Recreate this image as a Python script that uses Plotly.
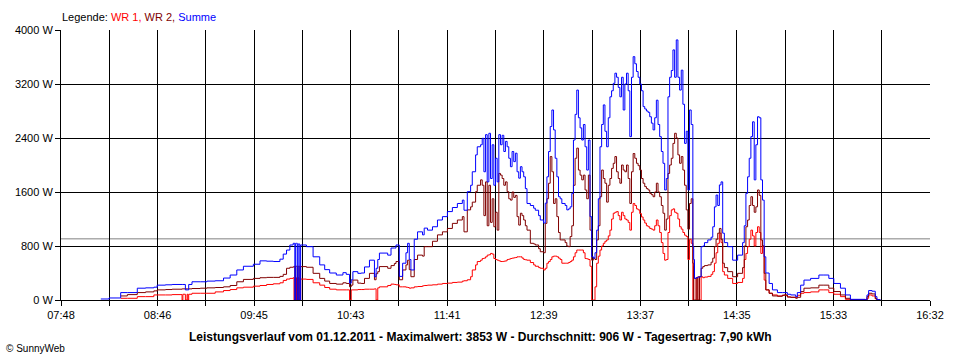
import plotly.graph_objects as go
import numpy as np

# ---- data (time, Summe, WR 2, WR 1) in W ----
times = ["08:12","08:17","08:24","08:28","08:34","08:39","08:44","08:46","08:51","08:55",
 "09:01","09:01:30","09:03","09:04","09:04:30","09:05","09:07","09:12","09:16","09:21",
 "09:26","09:30","09:34","09:38","09:44","09:48","09:52","09:56","10:00","10:02",
 "10:04","10:06","10:08","10:08:30","10:09","10:09:30","10:10","10:10:30","10:11","10:11:30",
 "10:12","10:12:30","10:16","10:20","10:24","10:27","10:30","10:34","10:38","10:40",
 "10:42","10:43","10:44","10:47","10:49","10:51","10:54","10:57","10:58","10:59",
 "11:00","11:05","11:07","11:09","11:10","11:12","11:14","11:16","11:17","11:18",
 "11:19","11:21","11:23","11:26","11:27","11:29","11:32","11:35","11:38","11:41",
 "11:44","11:47","11:50","11:51","11:53","11:55","11:56","11:58","11:59","12:01",
 "12:02","12:03","12:04","12:05","12:06","12:07","12:08","12:09","12:10","12:11",
 "12:12","12:13","12:14","12:15","12:16","12:17","12:18","12:19","12:20","12:21",
 "12:22","12:23","12:24","12:25","12:26","12:27","12:28","12:29","12:31","12:33",
 "12:34","12:36","12:37","12:39","12:40","12:41","12:42","12:43","12:44","12:45",
 "12:46","12:47","12:48","12:49","12:50","12:52","12:53","12:54","12:55","12:56",
 "12:57","12:58","12:59","13:00","13:01","13:02","13:03","13:04","13:05","13:06",
 "13:07","13:08","13:09","13:10","13:11","13:12","13:13","13:14","13:15","13:16",
 "13:17","13:18","13:19","13:20","13:21","13:22","13:23","13:24","13:25","13:26",
 "13:27","13:28","13:29","13:30","13:31","13:32","13:33","13:34","13:35","13:36",
 "13:37","13:38","13:39","13:40","13:41","13:42","13:43","13:44","13:45","13:46",
 "13:47","13:48","13:49","13:50","13:51","13:52","13:53","13:54","13:55","13:56",
 "13:57","13:58","13:59","14:00","14:01","14:02","14:03","14:04","14:05","14:06",
 "14:07","14:08","14:09","14:09:30","14:10","14:11","14:12","14:13","14:14","14:15",
 "14:16","14:18","14:20","14:21","14:22","14:23","14:24","14:25","14:26","14:27",
 "14:28","14:30","14:33","14:36","14:39","14:40","14:41","14:42","14:43","14:44",
 "14:45","14:46","14:47","14:48","14:49","14:50","14:51","14:52","14:53","14:55",
 "14:57","15:00","15:03","15:04","15:06","15:08","15:11","15:12","15:14","15:16",
 "15:20","15:25","15:28","15:31","15:34","15:38","15:41","15:44","15:53","15:54",
 "15:55","15:57","15:59","16:00","16:02"]

summe = [15,30,110,110,175,180,190,220,225,230,
 230,230,150,150,150,230,270,270,280,285,
 325,370,445,500,530,580,575,570,605,680,
 740,815,840,840,0,840,840,0,830,830,
 0,815,790,640,520,450,400,370,405,380,
 250,300,420,395,400,490,590,345,470,600,
 695,665,770,770,815,350,545,700,840,600,
 445,900,1010,965,1065,1035,1085,1185,1235,1310,
 1370,1430,1480,1330,1605,1700,1900,2150,2270,2300,
 2395,1900,2450,1750,2470,1800,2300,1700,2100,1750,
 2450,2300,2440,2200,2350,2270,2100,1975,2200,2050,
 2175,1900,1805,1975,1900,1825,1650,1430,1400,1360,
 1330,1250,1185,1140,1435,1825,2200,2570,2815,2520,
 2100,1825,1530,1500,1430,1400,1335,1350,1380,1580,
 2370,2750,3110,2700,2550,2370,2600,2270,1925,2370,
 1235,640,620,700,1035,1500,2270,2600,2890,2500,
 2270,2700,3010,3100,3210,3360,3300,3150,3010,3300,
 2815,3200,3360,3100,2420,3300,3605,3500,3385,3300,
 3200,3100,2865,2830,2800,2780,2715,2620,2520,2700,
 2960,2600,2420,2200,2025,1630,1800,3010,3300,3400,
 3705,3300,3853,3300,3110,3405,2900,2320,2500,1630,
 2815,2600,790,600,320,330,340,345,790,800,
 850,890,930,1085,1380,1555,1400,1705,1750,990,
 850,790,590,665,850,1100,1580,1825,2100,2420,
 2640,1780,2300,2715,2700,1780,1480,640,400,245,
 150,110,110,110,85,75,50,110,220,295,
 320,370,370,320,245,175,75,10,0,75,
 140,130,50,5,0]

wr2 = [None,None,60,80,110,120,135,150,155,160,
 165,165,165,165,165,165,170,175,180,185,
 195,215,270,305,320,330,335,335,350,380,
 470,485,490,500,0,500,500,0,500,500,
 0,495,485,395,320,280,245,235,255,245,
 195,220,295,250,245,320,395,300,390,420,
 495,470,510,540,570,300,445,520,590,450,
 345,600,665,650,790,790,870,965,1010,1060,
 1135,1185,1235,1010,1335,1380,1450,1605,1700,1780,
 1700,1250,1750,1100,1700,1150,1500,1085,1300,1035,
 1875,1850,1800,1700,1750,1605,1500,1480,1600,1520,
 1550,1235,1110,1285,1250,1185,1100,1035,840,830,
 815,760,715,700,1135,1500,1730,2125,1900,1430,
 1500,1235,1000,890,890,850,800,790,940,1100,
 1700,2100,2250,1925,1850,1780,1850,1630,1500,1850,
 1035,590,620,600,890,1100,1530,1925,1800,1730,
 1450,1700,1800,1950,2025,2125,1900,1800,1730,2000,
 1925,1900,2000,1800,1430,1900,2170,2100,2025,1990,
 1925,1800,1730,1680,1650,1630,1580,1560,1530,1600,
 1730,1600,1530,1400,1285,1035,1200,1875,2000,2100,
 2320,2470,2400,2150,2025,2125,1925,1700,1335,1050,
 1430,1500,545,0,0,330,0,345,470,495,
 510,520,560,620,790,900,990,1060,900,545,
 480,420,345,395,480,800,1085,1185,1400,1530,
 1400,1300,1380,1630,1550,890,800,395,150,100,
 60,55,70,75,45,40,25,40,125,175,
 180,220,220,175,125,75,25,5,0,50,
 100,90,20,0,0]

wr1 = [None,None,25,25,50,50,75,75,75,80,
 0,85,0,85,0,85,100,100,100,120,
 140,155,180,190,205,215,230,240,255,290,
 310,320,330,0,0,330,0,0,330,0,
 0,310,305,255,220,185,160,150,150,150,
 0,150,150,155,155,160,160,165,0,180,
 195,215,235,230,225,195,195,190,185,175,
 180,195,200,210,215,220,225,235,245,250,
 260,265,280,285,300,345,445,520,570,590,
 615,620,640,665,670,690,680,615,600,590,
 580,570,570,575,580,600,605,615,620,625,
 630,640,640,640,620,600,595,590,555,520,
 500,480,470,445,470,545,570,600,640,650,
 650,640,620,600,545,545,545,555,570,590,
 640,700,740,740,740,740,700,615,610,600,
 500,0,0,195,545,650,740,800,840,870,
 890,950,1035,1200,1285,1300,1310,1250,1185,1300,
 1250,1200,1185,1150,1035,1300,1430,1400,1350,1335,
 1280,1230,1185,1140,1100,1085,1060,1050,1035,1100,
 1185,1100,1000,850,690,590,600,1000,1250,1335,
 1350,1300,1285,1200,1085,1050,1000,960,940,600,
 900,840,0,500,320,0,345,0,345,330,
 340,350,380,420,545,700,840,990,850,420,
 370,320,245,260,320,600,690,790,900,1035,
 950,800,1000,1085,1000,690,800,295,150,100,
 75,60,70,70,45,40,40,70,100,110,
 120,150,150,110,85,50,10,0,0,25,
 75,60,20,0,0]

x_tick_labels = ["07:48","08:46","09:45","10:43","11:41","12:39","13:37","14:35","15:33","16:32"]
y_tick_values = [0, 800, 1600, 2400, 3200, 4000]
average_w = 906
max_w = 3853
yield_kwh = "7,90"
date_str = "01.12.2011"

def to_min(s):
    parts = [int(p) for p in s.split(":")]
    m = parts[0] * 60 + parts[1]
    if len(parts) > 2:
        m += parts[2] / 60.0
    return m

x = [to_min(t) for t in times]
t_first = to_min(x_tick_labels[0])
t_last = to_min(x_tick_labels[-1])
all_ticks = list(np.linspace(t_first, t_last, 2 * (len(x_tick_labels) - 1) + 1))
all_text = []
for i in range(len(all_ticks)):
    all_text.append(x_tick_labels[i // 2] if i % 2 == 0 else "")

FONT = "Liberation Sans"
RED = "#ff0000"
DARK = "#800000"
BLUE = "#0000ff"

fig = go.Figure()
fig.add_trace(go.Scatter(x=x, y=wr1, mode="lines", line=dict(color=RED, width=1, shape="hv"),
                         name="WR 1", connectgaps=False))
fig.add_trace(go.Scatter(x=x, y=wr2, mode="lines", line=dict(color=DARK, width=1, shape="hv"),
                         name="WR 2", connectgaps=False))
fig.add_trace(go.Scatter(x=x, y=summe, mode="lines", line=dict(color=BLUE, width=1, shape="hv"),
                         name="Summe"))

fig.add_shape(type="line", xref="paper", x0=0, x1=1, yref="y", y0=average_w, y1=average_w,
              line=dict(color="#808080", width=1), layer="below")

fig.update_layout(
    width=960, height=360,
    margin=dict(l=61, r=30, t=30, b=60, pad=0),
    paper_bgcolor="white", plot_bgcolor="white",
    showlegend=False,
    font=dict(family=FONT, size=11, color="black"),
    xaxis=dict(range=[t_first, t_last], tickmode="array", tickvals=all_ticks, ticktext=all_text,
               showgrid=True, gridcolor="black", gridwidth=1, showline=True, linecolor="black",
               linewidth=1, ticks="outside", ticklen=5, tickcolor="black", zeroline=False,
               tickfont=dict(family=FONT, size=11)),
    yaxis=dict(range=[0, 4000], tickmode="array", tickvals=y_tick_values,
               ticktext=[f"{v} W" for v in y_tick_values],
               showgrid=True, gridcolor="black", gridwidth=1, showline=True, linecolor="black",
               linewidth=1, ticks="outside", ticklen=5, tickcolor="black", zeroline=False,
               tickfont=dict(family=FONT, size=11)),
)

legend_html = ("Legende: <span style='color:%s'>WR 1,</span> <span style='color:%s'>WR 2,</span> "
               "<span style='color:%s'>Summe</span>") % (RED, DARK, BLUE)
fig.add_annotation(text=legend_html, xref="paper", yref="paper", x=-0.001, y=1 + 13 / 270,
                   xanchor="left", yanchor="middle", showarrow=False,
                   font=dict(family=FONT, size=11, color="black"))

title = ("<b>Leistungsverlauf vom %s - Maximalwert: %d W - Durchschnitt: %d W - "
         "Tagesertrag: %s kWh</b>") % (date_str, max_w, average_w, yield_kwh)
fig.add_annotation(text=title, xref="paper", yref="paper", x=(480 - 61) / 869, y=-37 / 270,
                   xanchor="center", yanchor="middle", showarrow=False,
                   font=dict(family=FONT, size=12, color="black"))

fig.add_annotation(text="© SunnyWeb", xref="paper", yref="paper", x=(4 - 61) / 869, y=-48 / 270,
                   xanchor="left", yanchor="middle", showarrow=False,
                   font=dict(family=FONT, size=10, color="black"))

fig.write_html("out.html", config={"displayModeBar": False},
               post_script="document.body.style.margin='0';")
